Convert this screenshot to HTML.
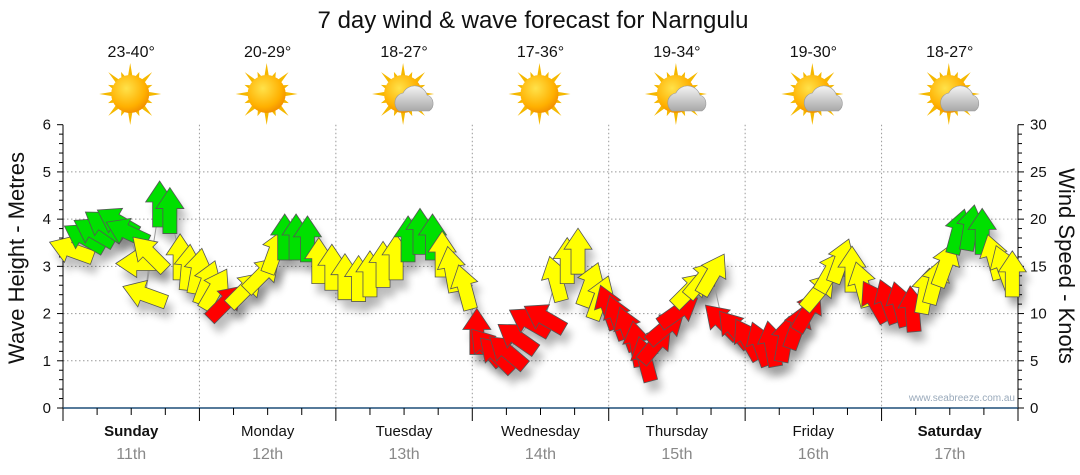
<!DOCTYPE html>
<html><head><meta charset="utf-8"><style>
body{margin:0;background:#fff;}
svg{display:block;font-family:"Liberation Sans",sans-serif;}
</style></head><body>
<svg id="chart" width="1080" height="475" viewBox="0 0 1080 475" xmlns="http://www.w3.org/2000/svg">
<defs>
<filter id="sh" x="-50%" y="-50%" width="200%" height="200%"><feGaussianBlur stdDeviation="4"/></filter>
<radialGradient id="sunG" cx="0.4" cy="0.35" r="0.7"><stop offset="0" stop-color="#ffe24a"/><stop offset="0.7" stop-color="#ffb000"/><stop offset="1" stop-color="#f08a00"/></radialGradient>
<linearGradient id="cloudG" x1="0" y1="0" x2="0" y2="1"><stop offset="0" stop-color="#f4f4f4"/><stop offset="1" stop-color="#a8a8a8"/></linearGradient>
</defs>
<text x="533" y="28" font-size="24" text-anchor="middle" fill="#111">7 day wind &amp; wave forecast for Narngulu</text>
<g id="grid"></g><g id="axes"></g><g id="icons"></g><g id="shadows"></g><g id="line"></g><g id="arrows"></g>
<text transform="translate(24,258) rotate(-90)" font-size="22" text-anchor="middle" fill="#111">Wave Height - Metres</text>
<text transform="translate(1059,266) rotate(90)" font-size="22" text-anchor="middle" fill="#111">Wind Speed - Knots</text>
<text x="1015" y="401" font-size="10" text-anchor="end" fill="#9aaabb">www.seabreeze.com.au</text>
</svg>
<script>
const days=["Sunday","Monday","Tuesday","Wednesday","Thursday","Friday","Saturday"];
const dates=["11th","12th","13th","14th","15th","16th","17th"];
const temps=["23-40°","20-29°","18-27°","17-36°","19-34°","19-30°","18-27°"];
const cloudy=[0,0,1,0,1,1,1];
const hours=[1.6,3.9,5.6,7.4,9.7,11.4,13.5,15.3,14.5,17,18.8,20.6,22,23.7,25.3,26.7,28.5,32,35,37.3,39,41,43,45,47.3,49.6,52,54,56.3,58.6,60.7,62.8,65,66.7,68.4,70.7,72.8,74.6,76.4,78.3,80,82.2,84.8,86.7,88.7,90.6,92.7,94.5,96,97.6,99.4,101,102.4,104.2,106,108.2,110.3,112.4,114.2,116,118.2,120.5,122.7,124.7,127,129.1,131,132.9,135,136.8,138.8,140.6,142.9,145.2,147.3,149.4,151.7,153.4,155.2,157.5,159.6,161.7,163.8,165.6,167];
const knots=[16.7,18,18.6,19.3,19.7,18.6,15.3,16.3,12,21.5,20.8,15.9,14.8,14.4,13.2,12.5,11.1,12.5,14.1,16.5,18,18,17.8,15.5,14.8,13.8,13.6,14.1,15.1,15.9,17.8,18.6,18,16.2,14.6,12.7,8,6.4,5.6,5.9,7.4,9.1,9.5,13.6,15.5,16.5,13,11.6,10.6,9.5,8.3,6.7,5.1,6.7,8.5,10.2,12.5,13.6,14.1,9.1,8.3,7.2,6.7,6.7,7.2,8.5,10.2,12.3,14.4,15.5,14.6,13,11.2,11.2,10.9,10.4,12.3,13.3,15.1,18.6,19,18.6,15.9,14.8,14.1];
const dirs=[290,300,300,305,300,295,270,315,290,0,0,0,5,10,20,30,45,45,45,20,0,0,0,0,0,0,0,0,0,0,0,0,0,0,350,345,0,320,315,310,305,300,300,345,0,0,20,20,340,340,340,350,345,40,50,55,45,40,30,315,320,330,340,350,10,20,30,40,30,20,0,345,330,340,345,355,10,15,20,15,10,0,345,340,0];
const L=63,R=1018,T=124.7,B=408;
const xs=h=>L+h/168*(R-L);
const ym=m=>B-m/6*(B-T);
const yk=k=>B-k/30*(B-T);
const NS="http://www.w3.org/2000/svg";
function mk(tag,attrs,parent){const e=document.createElementNS(NS,tag);for(const k in attrs)e.setAttribute(k,attrs[k]);parent.appendChild(e);return e;}
const grid=document.getElementById('grid'),axes=document.getElementById('axes'),icons=document.getElementById('icons');
for(let m=1;m<=5;m++){const l=mk('line',{x1:L,x2:R,y1:ym(m),y2:ym(m),stroke:'#999','stroke-dasharray':'1.5,2.5'},grid);

}
for(let d=1;d<7;d++){const l=mk('line',{x1:xs(d*24),x2:xs(d*24),y1:T,y2:B,stroke:'#999','stroke-dasharray':'1.5,2.5'},grid);

}
mk('line',{x1:L,x2:L,y1:T,y2:B,stroke:'#000'},axes);
mk('line',{x1:R,x2:R,y1:T,y2:B,stroke:'#000'},axes);
mk('line',{x1:L,x2:R,y1:B,y2:B,stroke:'#1f4e79','stroke-width':1.5},axes);
for(let i=0;i<=30;i++){const m=i/5,y=ym(m);const maj=i%5==0;
mk('line',{x1:L-(maj?6:4),x2:L,y1:y,y2:y,stroke:'#000'},axes);
if(maj){const t=mk('text',{x:L-12,y:y+5,'font-size':15,'text-anchor':'end',fill:'#111'},axes);t.textContent=m;

}}
for(let k=0;k<=30;k++){const y=yk(k);const maj=k%5==0;
mk('line',{x1:R,x2:R+(maj?6:4),y1:y,y2:y,stroke:'#000'},axes);
if(maj){const t=mk('text',{x:R+12,y:y+5,'font-size':15,fill:'#111'},axes);t.textContent=k;

}}
for(let h=0;h<=168;h+=6){const x=xs(h);mk('line',{x1:x,x2:x,y1:B,y2:B+(h%24==0?13:7),stroke:'#000'},axes);}
function sun(g,cx,cy){for(let i=0;i<16;i++){const a=i*Math.PI/8,l=i%2?24:31,w=0.14;
mk('polygon',{points:`${cx+Math.cos(a-w)*17},${cy+Math.sin(a-w)*17} ${cx+Math.cos(a)*l},${cy+Math.sin(a)*l} ${cx+Math.cos(a+w)*17},${cy+Math.sin(a+w)*17}`,fill:'#f5b800'},g);}
mk('circle',{cx,cy,r:19,fill:'url(#sunG)'},g);}
days.forEach((d,i)=>{const cx=xs(i*24+12);
const t1=mk('text',{x:cx,y:436,'font-size':15,'text-anchor':'middle',fill:'#111','font-weight':(i==0||i==6)?'bold':'normal'},axes);t1.textContent=d;


const t2=mk('text',{x:cx,y:459,'font-size':16,'text-anchor':'middle',fill:'#888'},axes);t2.textContent=dates[i];


const t3=mk('text',{x:cx,y:57,'font-size':16,'text-anchor':'middle',fill:'#111'},icons);t3.textContent=temps[i];


const g=mk('g',{},icons);


sun(g,cx-1,94);
if(cloudy[i]){mk('path',{d:`M${cx-5},${111} a10,10 0 0 1 4,-18 a13,13 0 0 1 24,2 a9,9 0 0 1 2,16 z`,fill:'url(#cloudG)',stroke:'#999','stroke-width':0.6},g);}
});
const col=k=>k<11.3?'#ff0000':(k<17?'#ffff00':'#00e000');
const shp="0,-24 14,-3 7,-3 7,22 -7,22 -7,-3 -14,-3";
const line=document.getElementById('line'),arr=document.getElementById('arrows'),shd=document.getElementById('shadows');
let pts=hours.map((h,i)=>xs(h)+','+yk(knots[i])).join(' ');
mk('polyline',{points:pts,fill:'none',stroke:'#999','stroke-width':1},line);
hours.forEach((h,i)=>{const x=xs(h),y=yk(knots[i]);
mk('polygon',{points:shp,fill:'#000',opacity:0.25,filter:'url(#sh)',transform:`translate(${x+5},${y+10}) rotate(${dirs[i]})`},shd);
const p=mk('polygon',{points:shp,fill:col(knots[i]),stroke:'#555','stroke-width':0.8,transform:`translate(${x},${y}) rotate(${dirs[i]})`},arr);

});
</script>
</body></html>
